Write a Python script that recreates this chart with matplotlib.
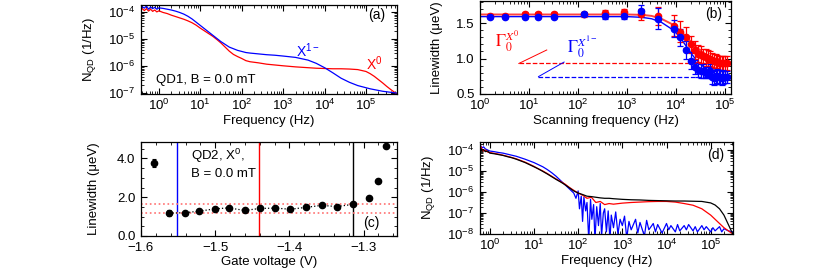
import matplotlib
matplotlib.use("Agg")
import matplotlib.pyplot as plt
import numpy as np
from matplotlib.ticker import MultipleLocator, FormatStrFormatter, LogLocator

plt.rcParams['font.family'] = ['Liberation Sans', 'DejaVu Sans']
plt.rcParams['mathtext.fontset'] = 'custom'
plt.rcParams['mathtext.rm'] = 'Liberation Sans'
plt.rcParams['mathtext.it'] = 'Liberation Sans:italic'
plt.rcParams['font.size'] = 9.5

# ---- panel (a): noise spectra QD1 (log10 f, log10 N)
a_logf = [-0.42, -0.35, -0.3, -0.25, -0.2, -0.15, -0.1, -0.05, 0, 0.1, 0.2, 0.3, 0.4, 0.5,
          0.6, 0.7, 0.8, 0.9, 1.0, 1.1, 1.2, 1.3, 1.4, 1.5, 1.6, 1.7, 1.8, 1.9, 2.0, 2.1,
          2.2, 2.4, 2.6, 2.8, 3.0, 3.3, 3.6, 3.8, 4.0, 4.2, 4.4, 4.6, 4.8, 5.0, 5.1, 5.2,
          5.3, 5.4, 5.5, 5.6, 5.7, 5.75]
a_red = [-3.86, -3.95, -3.88, -3.97, -3.9, -3.98, -3.93, -4.0, -3.96, -4.02, -4.06, -4.12,
         -4.17, -4.22, -4.27, -4.33, -4.4, -4.49, -4.6, -4.7, -4.8, -4.9, -5.02, -5.15,
         -5.3, -5.45, -5.57, -5.65, -5.72, -5.8, -5.84, -5.88, -5.93, -5.96, -5.99,
         -6.03, -6.06, -6.08, -6.09, -6.1, -6.1, -6.11, -6.13, -6.2, -6.28, -6.38,
         -6.5, -6.62, -6.75, -6.87, -6.98, -7.03]
a_blue = [-3.80, -3.86, -3.78, -3.9, -3.82, -3.88, -3.83, -3.9, -3.85, -3.87, -3.9, -3.93,
          -3.97, -4.02, -4.08, -4.16, -4.26, -4.38, -4.5, -4.62, -4.74, -4.86, -4.98,
          -5.1, -5.2, -5.3, -5.36, -5.42, -5.46, -5.5, -5.52, -5.55, -5.58, -5.6, -5.63,
          -5.68, -5.78, -5.9, -6.06, -6.25, -6.45, -6.6, -6.72, -6.8, -6.84, -6.87,
          -6.9, -6.93, -6.95, -6.97, -6.99, -7.0]

# ---- panel (b): linewidth vs scanning frequency
b_f_lo = [1.6, 3.3, 8.3, 15.5, 33, 130, 350, 850, 1950, 4300]
b_red_lo = [1.60, 1.60, 1.62, 1.62, 1.63, 1.62, 1.64, 1.65, 1.62, 1.60]
b_red_err_lo = [0.02, 0.02, 0.03, 0.03, 0.03, 0.03, 0.04, 0.05, 0.08, 0.13]
b_blue_lo = [1.59, 1.59, 1.59, 1.59, 1.59, 1.63, 1.60, 1.60, 1.67, 1.56]
b_blue_err_lo = [0.02, 0.02, 0.02, 0.02, 0.02, 0.03, 0.05, 0.05, 0.08, 0.15]
b_f_hi = [9000, 12000, 16000, 20000, 24000, 28000, 32000, 36000, 40000, 45000, 50000,
          55000, 60000, 65000, 70000, 75000, 80000, 85000, 90000, 100000, 110000]
b_red_hi = [1.46, 1.38, 1.30, 1.20, 1.12, 1.07, 1.05, 1.03, 1.02, 1.0, 1.0, 0.98, 0.97,
            0.96, 0.95, 0.94, 0.94, 0.93, 0.93, 0.93, 0.94]
b_red_err_hi = [0.15, 0.15, 0.15, 0.12, 0.12, 0.12, 0.12, 0.1, 0.12, 0.12, 0.1, 0.1, 0.1,
                0.1, 0.1, 0.1, 0.1, 0.1, 0.1, 0.1, 0.1]
b_blue_hi = [1.42, 1.30, 1.12, 0.97, 0.88, 0.84, 0.82, 0.82, 0.80, 0.80, 0.82, 0.74,
             0.73, 0.74, 0.75, 0.74, 0.74, 0.73, 0.74, 0.74, 0.74]
b_blue_err_hi = [0.12, 0.12, 0.12, 0.12, 0.1, 0.1, 0.1, 0.1, 0.08, 0.08, 0.1, 0.1, 0.1,
                 0.1, 0.1, 0.1, 0.1, 0.1, 0.1, 0.08, 0.08]
fit_logf = [0, 1, 2, 3, 3.3, 3.5, 3.7, 3.9, 4.0, 4.1, 4.2, 4.3, 4.4, 4.5, 4.6, 4.7, 4.8,
            4.9, 5.0, 5.1]
fit_red = [1.62, 1.62, 1.62, 1.62, 1.615, 1.60, 1.56, 1.49, 1.44, 1.38, 1.31, 1.24,
           1.17, 1.11, 1.06, 1.02, 0.99, 0.97, 0.955, 0.945]
fit_blue = [1.59, 1.59, 1.59, 1.59, 1.58, 1.56, 1.51, 1.42, 1.36, 1.28, 1.18, 1.08,
            0.99, 0.92, 0.86, 0.82, 0.79, 0.77, 0.76, 0.755]
gamma0_red = 0.93
gamma0_blue = 0.745

# ---- panel (c): linewidth vs gate voltage
c_v = [-1.5825, -1.562, -1.541, -1.5216, -1.5005, -1.482, -1.4602, -1.44, -1.419,
       -1.399, -1.3773, -1.3567, -1.336, -1.3146, -1.2922, -1.281, -1.2698]
c_lw = [3.78, 1.18, 1.20, 1.28, 1.40, 1.45, 1.32, 1.42, 1.44, 1.38, 1.48, 1.58, 1.52,
        1.63, 1.94, 2.85, 4.64]
c_err = [0.2, 0.15, 0.06, 0.05, 0.06, 0.05, 0.05, 0.05, 0.05, 0.05, 0.05, 0.05, 0.05,
         0.05, 0.05, 0.05, 0.05]
c_vlines = [-1.552, -1.441, -1.3146]
c_hlines = [1.65, 1.19]

# ---- panel (d): noise spectra, three gate voltages
d_logf = [-0.22, -0.18, -0.14, -0.1, -0.05, 0, 0.1, 0.2, 0.3, 0.4, 0.5, 0.6, 0.7, 0.8,
          0.9, 1.0, 1.1, 1.2, 1.3, 1.4, 1.5, 1.6, 1.7, 1.8, 1.9, 2.0, 2.1, 2.2, 2.3,
          2.4, 2.5, 2.6, 2.7, 2.8, 3.0, 3.2, 3.4, 3.6, 3.8, 4.0, 4.2, 4.4, 4.6, 4.8,
          5.0, 5.1, 5.2, 5.3, 5.4, 5.5]
d_red = [-3.75, -3.95, -4.05, -4.0, -4.1, -4.12, -4.16, -4.2, -4.25, -4.3, -4.36, -4.42,
         -4.5, -4.58, -4.68, -4.78, -4.9, -5.0, -5.12, -5.25, -5.38, -5.5, -5.62, -5.78,
         -5.92, -6.05, -6.15, -6.3, -6.25, -6.5, -6.45, -6.6, -6.55, -6.58, -6.53,
         -6.5, -6.48, -6.46, -6.45, -6.45, -6.48, -6.55, -6.63, -6.8, -7.1, -7.3, -7.5,
         -7.7, -7.85, -8.0]
d_black = [-3.9, -4.0, -3.98, -4.08, -4.05, -4.15, -4.18, -4.22, -4.26, -4.32, -4.37,
           -4.44, -4.52, -4.6, -4.7, -4.8, -4.9, -5.02, -5.14, -5.27, -5.4, -5.52, -5.65,
           -5.8, -5.95, -6.05, -6.12, -6.2, -6.22, -6.25, -6.28, -6.3, -6.3, -6.32,
           -6.35, -6.37, -6.38, -6.4, -6.41, -6.42, -6.43, -6.43, -6.44, -6.45, -6.52,
           -6.62, -6.8, -7.1, -7.55, -8.0]
d_blue_logf = [-0.22, -0.18, -0.14, -0.1, -0.05, 0, 0.1, 0.2, 0.3, 0.4, 0.5, 0.6, 0.7,
               0.8, 0.9, 1.0, 1.1, 1.2, 1.3, 1.4, 1.5, 1.6, 1.7, 1.8, 1.9, 1.95, 2.0,
               2.03, 2.07, 2.1, 2.13, 2.17, 2.2, 2.24, 2.28, 2.31, 2.35, 2.38, 2.42, 2.46,
               2.5, 2.53, 2.57, 2.6, 2.64, 2.68, 2.72, 2.75, 2.8, 2.85, 2.9, 2.95, 3.0,
               3.05, 3.1, 3.15, 3.2, 3.3, 3.35, 3.4, 3.5, 3.55, 3.6, 3.7, 3.75, 3.8,
               3.9, 4.0, 4.05, 4.1, 4.2, 4.25, 4.3, 4.4, 4.45, 4.5, 4.6, 4.65, 4.7, 4.8,
               4.85, 4.9, 5.0, 5.05, 5.1, 5.2, 5.25, 5.3, 5.4, 5.5]
d_blue = [-3.75, -3.9, -3.85, -3.95, -4.0, -4.05, -4.08, -4.12, -4.15, -4.2, -4.25, -4.3,
          -4.37, -4.44, -4.52, -4.6, -4.7, -4.8, -4.93, -5.08, -5.25, -5.45, -5.65, -5.85,
          -6.05, -6.3, -5.95, -6.8, -6.2, -7.4, -6.25, -6.9, -6.5, -8.3, -6.35, -7.3,
          -6.6, -8.3, -6.7, -7.6, -6.55, -8.1, -7.0, -6.8, -7.9, -6.9, -8.3, -7.1, -7.7,
          -6.95, -8.0, -7.3, -7.6, -7.15, -8.2, -7.4, -7.8, -7.3, -7.95, -7.45, -8.1,
          -7.35, -7.8, -7.5, -7.9, -7.55, -7.95, -7.5, -7.8, -7.6, -7.9, -7.55, -7.85,
          -7.6, -7.8, -7.55, -7.85, -7.65, -7.9, -7.6, -7.8, -7.65, -7.9, -7.7, -7.85,
          -7.65, -7.9, -7.75, -7.85, -7.9]

W, H = 830, 270
fig = plt.figure(figsize=(W / 100, H / 100), dpi=100)


def box(l, t, r, b):
    return [l / W, 1 - b / H, (r - l) / W, (b - t) / H]


def style(ax):
    ax.tick_params(which='both', direction='in', top=True, right=True, labelsize=9.5)
    ax.tick_params(axis='x', pad=3)
    ax.tick_params(axis='y', pad=4)
    ax.tick_params(which='major', length=4, width=0.8)
    ax.tick_params(which='minor', length=2, width=0.6)
    for s in ax.spines.values():
        s.set_linewidth(0.9)


def logaxes(ax):
    ax.xaxis.set_major_locator(LogLocator(base=10, numticks=12))
    ax.yaxis.set_major_locator(LogLocator(base=10, numticks=12))
    ax.yaxis.set_minor_locator(LogLocator(base=10, subs=np.arange(2, 10), numticks=12))


# (a)
ax = fig.add_axes(box(141, 5, 397, 94))
ax.plot(10 ** np.array(a_logf), 10 ** np.array(a_red), color='red', lw=0.9)
ax.plot(10 ** np.array(a_logf), 10 ** np.array(a_blue), color='blue', lw=0.9)
ax.set_xscale('log')
ax.set_yscale('log')
ax.set_xlim(0.37, 5.6e5)
ax.set_ylim(0.93e-7, 1.8e-4)
logaxes(ax)
ax.set_xlabel('Frequency (Hz)', labelpad=1)
ax.set_ylabel('N$_{\\mathrm{QD}}$ (1/Hz)')
ax.yaxis.set_label_coords(-0.168, 0.5)
ax.text(0.955, 0.84, '(a)', transform=ax.transAxes, ha='right', fontsize=10)
ax.text(0.06, 0.12, 'QD1, B = 0.0 mT', transform=ax.transAxes, fontsize=9.5)
ax.text(4e3, 2.2e-6, 'X$^{1-}$', color='blue', fontsize=10, ha='center')
ax.text(1.6e5, 7e-7, 'X$^{0}$', color='red', fontsize=10, ha='center')
style(ax)

# (b)
ax = fig.add_axes(box(480, 1, 731, 94))
ax.plot(10 ** np.array(fit_logf), fit_red, color='red', lw=1.4, alpha=0.75)
ax.plot(10 ** np.array(fit_logf), fit_blue, color='blue', lw=1.0)
ax.errorbar(b_f_lo + b_f_hi, b_red_lo + b_red_hi, yerr=b_red_err_lo + b_red_err_hi,
            fmt='o', color='red', ms=4.5, capsize=2, elinewidth=0.9, capthick=0.9)
ax.errorbar(b_f_lo + b_f_hi, b_blue_lo + b_blue_hi, yerr=b_blue_err_lo + b_blue_err_hi,
            fmt='o', color='blue', ms=4.5, capsize=2, elinewidth=0.9, capthick=0.9)
ax.set_xscale('log')
ax.set_xlim(1, 1.32e5)
ax.set_ylim(0.5, 1.81)
ax.plot([6.2, 1.32e5], [gamma0_red, gamma0_red], color='red', ls='--', lw=0.9)
ax.plot([15.6, 1.32e5], [gamma0_blue, gamma0_blue], color='blue', ls='--', lw=0.9)
ax.plot([6.2, 23], [gamma0_red, 1.12], color='red', lw=0.7)
ax.plot([15.6, 52], [gamma0_blue, 0.95], color='blue', lw=0.7)
ax.text(3.6, 1.24, '$\\Gamma_0^{X^0}$', color='red', fontsize=12, ha='center',
        va='center', math_fontfamily='stix')
ax.text(120, 1.16, '$\\Gamma_0^{X^{1-}}$', color='blue', fontsize=12, ha='center',
        va='center', math_fontfamily='stix')
ax.yaxis.set_major_locator(MultipleLocator(0.5))
ax.yaxis.set_minor_locator(MultipleLocator(0.1))
ax.yaxis.set_major_formatter(FormatStrFormatter('%.1f'))
ax.xaxis.set_major_locator(LogLocator(base=10, numticks=12))
ax.set_xlabel('Scanning frequency (Hz)', labelpad=1)
ax.set_ylabel('Linewidth (μeV)')
ax.yaxis.set_label_coords(-0.147, 0.5)
ax.text(0.965, 0.82, '(b)', transform=ax.transAxes, ha='right', fontsize=10)
style(ax)

# (c)
ax = fig.add_axes(box(141, 142, 397, 236))
for v, c in zip(c_vlines, ['blue', 'red', 'black']):
    ax.axvline(v, color=c, lw=1.0)
for h in c_hlines:
    ax.axhline(h, color='#ff7070', ls=':', lw=1.2)
ax.plot(c_v[1:14], c_lw[1:14], color='black', ls=':', lw=0.9)
ax.errorbar(c_v, c_lw, yerr=c_err, fmt='o', color='black', ms=4.5, capsize=1.5,
            elinewidth=0.8, capthick=0.8)
ax.set_xlim(-1.6, -1.255)
ax.set_ylim(0, 4.85)
ax.xaxis.set_major_locator(MultipleLocator(0.1))
ax.xaxis.set_minor_locator(MultipleLocator(0.02))
ax.yaxis.set_major_locator(MultipleLocator(2.0))
ax.yaxis.set_minor_locator(MultipleLocator(0.5))
ax.yaxis.set_major_formatter(FormatStrFormatter('%.1f'))
ax.set_xlabel('Gate voltage (V)', labelpad=1)
ax.set_ylabel('Linewidth (μeV)')
ax.yaxis.set_label_coords(-0.16, 0.5)
ax.text(-1.532, 4.6, 'QD2, X$^{0}$,\nB = 0.0 mT', fontsize=9.5, linespacing=1.3,
        va='top')
ax.text(0.93, 0.1, '(c)', transform=ax.transAxes, ha='right', fontsize=10)
style(ax)
ax.tick_params(axis='x', pad=4.5)

# (d)
ax = fig.add_axes(box(480, 142, 733, 234))
ax.plot(10 ** np.array(d_blue_logf), 10 ** np.array(d_blue), color='blue', lw=0.9)
ax.plot(10 ** np.array(d_logf), 10 ** np.array(d_red), color='red', lw=0.9)
ax.plot(10 ** np.array(d_logf), 10 ** np.array(d_black), color='black', lw=0.9)
ax.set_xscale('log')
ax.set_yscale('log')
ax.set_xlim(0.6, 3.2e5)
ax.set_ylim(1e-8, 2.4e-4)
logaxes(ax)
ax.set_xlabel('Frequency (Hz)', labelpad=1)
ax.set_ylabel('N$_{\\mathrm{QD}}$ (1/Hz)')
ax.yaxis.set_label_coords(-0.17, 0.5)
ax.text(0.965, 0.82, '(d)', transform=ax.transAxes, ha='right', fontsize=10)
style(ax)

fig.savefig('out.png', dpi=100)
